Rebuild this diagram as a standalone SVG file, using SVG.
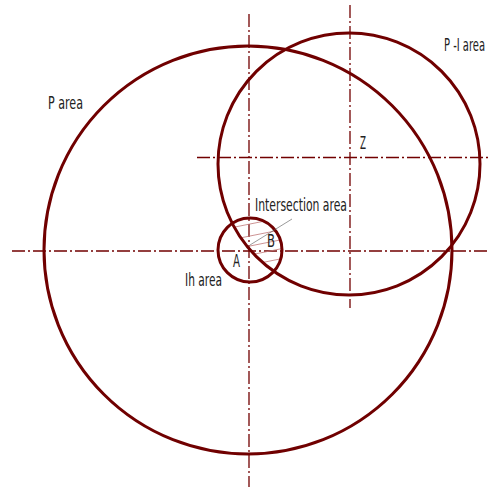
<svg xmlns="http://www.w3.org/2000/svg" width="492" height="487" viewBox="0 0 492 487">
<defs>
<style>
.circ{fill:none;stroke:#700000;stroke-width:3}
.axis{fill:none;stroke:#720000;stroke-width:1.3;stroke-dasharray:13 3 2 3}
.hatch{stroke:#c07878;stroke-width:0.8}
.lead{stroke:#555;stroke-width:0.6}
text{font-family:"DejaVu Sans Condensed","Liberation Sans",sans-serif;font-size:17px;fill:#222}
</style>
<clipPath id="cSmall"><circle cx="250" cy="250" r="32"/></clipPath>
<clipPath id="cPI"><circle cx="349" cy="164" r="131"/></clipPath>
</defs>
<g id="connectors">
<line class="axis" x1="249" y1="14" x2="249" y2="487"/>
<line class="axis" x1="12" y1="251" x2="487" y2="251"/>
<line class="axis" x1="350" y1="5" x2="350" y2="308"/>
<line class="axis" x1="197" y1="157.5" x2="491" y2="157.5"/>
</g>
<g id="hatching" clip-path="url(#cSmall)">
<g clip-path="url(#cPI)">
<line class="hatch" x1="210" y1="232" x2="300" y2="214"/>
<line class="hatch" x1="210" y1="244" x2="300" y2="226"/>
<line class="hatch" x1="210" y1="254" x2="300" y2="236"/>
<line class="hatch" x1="210" y1="263" x2="300" y2="245"/>
<line class="hatch" x1="210" y1="273" x2="300" y2="255"/>
</g>
</g>
<g id="P-area"><circle class="circ" cx="248" cy="250" r="204"/><text x="48" y="109" textLength="35" lengthAdjust="spacingAndGlyphs">P area</text></g>
<g id="P-I-area"><circle class="circ" cx="349" cy="164" r="131"/><text x="444" y="51" font-size="13" textLength="41" lengthAdjust="spacingAndGlyphs">P -I area</text></g>
<g id="Ih-area"><circle class="circ" cx="250" cy="250" r="32"/><text x="185" y="286" textLength="37" lengthAdjust="spacingAndGlyphs">Ih area</text></g>
<g id="Z"><text x="360" y="149" textLength="6" lengthAdjust="spacingAndGlyphs">Z</text></g>
<g id="A"><text x="233" y="267" textLength="7" lengthAdjust="spacingAndGlyphs">A</text></g>
<g id="B"><text x="267" y="247" textLength="8" lengthAdjust="spacingAndGlyphs">B</text></g>
<g id="intersection"><line class="lead" x1="292" y1="219" x2="250" y2="245"/><text x="255" y="211" textLength="92" lengthAdjust="spacingAndGlyphs">Intersection area</text></g>
</svg>
